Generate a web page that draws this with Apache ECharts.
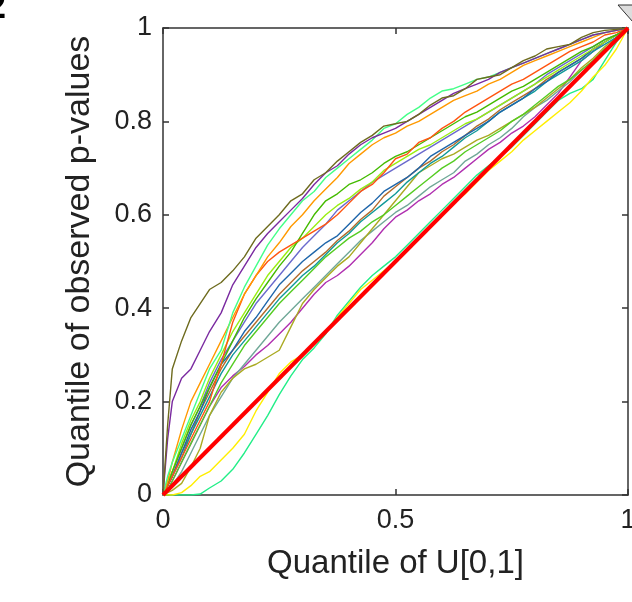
<!DOCTYPE html>
<html>
<head>
<meta charset="utf-8">
<script src="https://cdn.jsdelivr.net/npm/echarts@6/dist/echarts.min.js"></script>
<style>
  html, body { margin: 0; padding: 0; background: #fff; }
  #qq { width: 632px; height: 602px; }
</style>
</head>
<body>
<div id="qq"></div>
<script>
// quantile grid shared by all curves
const xs = [0, .01, .02, .04, .06, .08, .1, .125, .15, .175, .2,
  .225, .25, .275, .3, .325, .35, .375, .4, .425, .45, .475, .5, .525, .55, .575, .6,
  .625, .65, .675, .7, .725, .75, .775, .8, .825, .85, .875, .9, .925, .95, .975, 1]
const xTicks = [0, 0.5, 1]
const yTicks = [0, 0.2, 0.4, 0.6, 0.8, 1]

// observed p-value quantiles, one array per run
const olive     = [0, .15, .27, .33, .38, .41, .44, .455, .48, .51, .55,
  .575, .60, .63, .645, .675, .69, .715, .735, .755, .77, .79, .795, .80, .815, .835, .85, .855, .87, .89, .895, .90, .915, .93, .94, .955, .96, .965, .98, .99, .995, .997, 1]
const purple    = [0, .12, .2, .25, .27, .31, .35, .39, .45, .49, .53,
  .56, .585, .61, .635, .665, .69, .705, .73, .75, .765, .775, .785, .80, .815, .83, .845, .86, .87, .88, .89, .905, .915, .925, .935, .945, .955, .965, .975, .985, .99, .995, 1]
const mint      = [0, .04, .07, .12, .17, .22, .27, .31, .39, .445, .49,
  .535, .57, .60, .63, .65, .68, .70, .72, .74, .76, .785, .795, .815, .83, .85, .865, .87, .88, .89, .895, .905, .915, .925, .935, .945, .955, .965, .975, .985, .99, .995, 1]
const orange    = [0, .03, .07, .14, .2, .24, .28, .33, .38, .43, .47,
  .51, .54, .575, .60, .63, .655, .68, .71, .73, .75, .765, .775, .79, .80, .815, .83, .845, .855, .865, .88, .89, .905, .92, .93, .94, .95, .96, .97, .98, .99, .995, 1]
const orangered = [0, .02, .04, .08, .12, .16, .2, .28, .37, .43, .47,
  .50, .52, .535, .55, .565, .58, .60, .625, .65, .665, .69, .72, .73, .755, .765, .785, .80, .82, .835, .85, .865, .88, .89, .905, .92, .935, .95, .96, .97, .985, .99, 1]
const green     = [0, .02, .05, .1, .15, .19, .23, .28, .33, .38, .42,
  .455, .49, .52, .56, .60, .63, .645, .665, .675, .69, .71, .725, .735, .75, .765, .78, .795, .81, .82, .835, .85, .865, .875, .89, .905, .92, .935, .95, .96, .975, .985, 1]
const lime      = [0, .03, .05, .11, .16, .2, .25, .3, .35, .39, .43,
  .47, .50, .53, .55, .575, .60, .62, .635, .655, .67, .695, .71, .725, .74, .75, .765, .78, .795, .805, .82, .835, .85, .865, .88, .895, .91, .925, .94, .955, .97, .985, 1]
const slate     = [0, .02, .05, .1, .15, .19, .24, .29, .33, .37, .41,
  .44, .47, .50, .53, .555, .58, .61, .63, .65, .67, .685, .70, .715, .73, .745, .76, .775, .79, .805, .82, .835, .85, .865, .88, .90, .915, .93, .945, .96, .975, .985, 1]
const steel     = [0, .02, .04, .09, .14, .18, .23, .28, .31, .35, .38,
  .415, .45, .475, .50, .52, .54, .555, .58, .605, .625, .65, .665, .68, .70, .725, .74, .755, .77, .785, .80, .82, .835, .85, .87, .885, .905, .92, .935, .955, .97, .985, 1]
const teal      = [0, .02, .04, .08, .13, .17, .21, .26, .3, .33, .36,
  .39, .42, .445, .47, .49, .515, .54, .56, .585, .605, .625, .645, .67, .69, .71, .725, .745, .765, .78, .80, .82, .835, .85, .865, .885, .90, .915, .93, .95, .965, .98, 1]
const brown     = [0, .02, .04, .09, .13, .18, .22, .27, .31, .34, .37,
  .40, .43, .455, .48, .50, .52, .545, .565, .59, .61, .64, .66, .68, .70, .715, .735, .75, .77, .79, .805, .825, .84, .855, .87, .89, .905, .92, .935, .955, .97, .985, 1]
const medgreen  = [0, .01, .03, .07, .11, .15, .19, .24, .28, .32, .35,
  .38, .41, .435, .46, .485, .51, .53, .55, .565, .585, .60, .62, .64, .66, .68, .70, .715, .735, .75, .765, .78, .80, .815, .835, .855, .875, .89, .91, .93, .955, .975, 1]
const oliveyel  = [0, .005, .01, .025, .06, .1, .17, .22, .25, .27, .28,
  .295, .31, .36, .41, .44, .465, .49, .51, .54, .57, .60, .63, .66, .69, .705, .72, .73, .745, .76, .77, .785, .80, .815, .83, .85, .87, .89, .915, .935, .96, .98, 1]
const greyteal  = [0, .01, .02, .05, .09, .13, .17, .21, .25, .28, .31,
  .34, .37, .395, .42, .445, .47, .495, .52, .545, .565, .585, .605, .62, .64, .66, .675, .69, .715, .73, .75, .765, .785, .81, .83, .845, .865, .885, .91, .93, .955, .975, 1]
const magenta   = [0, .01, .03, .07, .11, .15, .19, .23, .255, .275, .3,
  .32, .345, .37, .40, .43, .455, .47, .49, .515, .54, .57, .595, .61, .63, .645, .665, .68, .70, .72, .74, .755, .775, .79, .81, .835, .86, .895, .93, .95, .97, .985, 1]
const yellow    = [0, 0, 0, .005, .02, .04, .05, .075, .1, .13, .18,
  .22, .26, .285, .30, .325, .35, .38, .41, .44, .46, .48, .5, .525, .55, .575, .6, .625, .645, .67, .695, .715, .735, .76, .78, .80, .82, .84, .865, .895, .92, .955, 1]
const spring    = [0, 0, 0, 0, 0, .002, .015, .03, .055, .09, .13,
  .17, .215, .255, .29, .315, .345, .385, .415, .445, .47, .49, .51, .535, .56, .585, .61, .635, .66, .685, .705, .725, .745, .77, .795, .82, .845, .86, .87, .89, .93, .97, 1]

const runs = [
  [spring, '#22ee88'], [yellow, '#ffee00'],
  [magenta, '#b030b0'], [greyteal, '#70a898'], [oliveyel, '#aaaa22'],
  [medgreen, '#55cc22'], [brown, '#b36b2b'], [teal, '#119999'],
  [steel, '#1f66aa'], [slate, '#6a6acd'], [lime, '#99ee11'],
  [green, '#44bb00'], [orangered, '#ff5511'], [orange, '#ff9900'],
  [mint, '#44ff88'], [purple, '#7a2aa0'], [olive, '#6e6b1e']
]

const chart = echarts.init(document.getElementById('qq'))

const series = runs.map(function (r) {
  return {
    type: 'line',
    symbol: 'none',
    lineStyle: { width: 1.4, color: r[1] },
    data: xs.map(function (x, i) { return [x, r[0][i]] })
  }
})
// reference line y = x
series.push({
  type: 'line',
  symbol: 'none',
  z: 5,
  lineStyle: { width: 4, color: '#ff0000' },
  data: [[xTicks[0], yTicks[0]], [xTicks[2], yTicks[5]]]
})

const axisText = { fontFamily: 'Liberation Sans', fontSize: 27, color: '#222' }
const boxLine = { show: true, onZero: false, lineStyle: { color: '#333', width: 1.5 } }
const tickIn = { show: true, inside: true, length: 6, lineStyle: { color: '#333', width: 1.5 } }

chart.setOption({
  animation: false,
  grid: { left: 163, right: 4, top: 28, bottom: 107, outerBoundsMode: 'none', containLabel: false },
  xAxis: [{
    type: 'value', min: 0, max: 1, interval: 0.5, position: 'bottom',
    axisLine: boxLine, axisTick: tickIn, splitLine: { show: false },
    axisLabel: Object.assign({ margin: 12 }, axisText),
    name: 'Quantile of U[0,1]', nameLocation: 'middle', nameGap: 52,
    nameTextStyle: { fontFamily: 'Liberation Sans', fontSize: 33, color: '#222' }
  }, {
    type: 'value', min: 0, max: 1, interval: 0.5, position: 'top',
    axisLine: boxLine, axisTick: tickIn, splitLine: { show: false },
    axisLabel: { show: false }
  }],
  yAxis: [{
    type: 'value', min: 0, max: 1, interval: 0.2, position: 'left',
    axisLine: boxLine, axisTick: tickIn, splitLine: { show: false },
    axisLabel: Object.assign({ margin: 11 }, axisText),
    name: 'Quantile of observed p-values', nameLocation: 'middle', nameGap: 66,
    nameTextStyle: { fontFamily: 'Liberation Sans', fontSize: 34, color: '#222' }
  }, {
    type: 'value', min: 0, max: 1, interval: 0.2, position: 'right',
    axisLine: boxLine, axisTick: tickIn, splitLine: { show: false },
    axisLabel: { show: false }
  }],
  graphic: [
    { type: 'text', left: -14, top: -10,
      style: { text: '2', font: 'bold 36px Liberation Sans', fill: '#000' } },
    { type: 'polygon', shape: { points: [[618, 5], [662, 5], [640, 30]] },
      style: { fill: '#dddddd', stroke: '#333', lineWidth: 1 } }
  ],
  series: series
})
</script>
</body>
</html>
